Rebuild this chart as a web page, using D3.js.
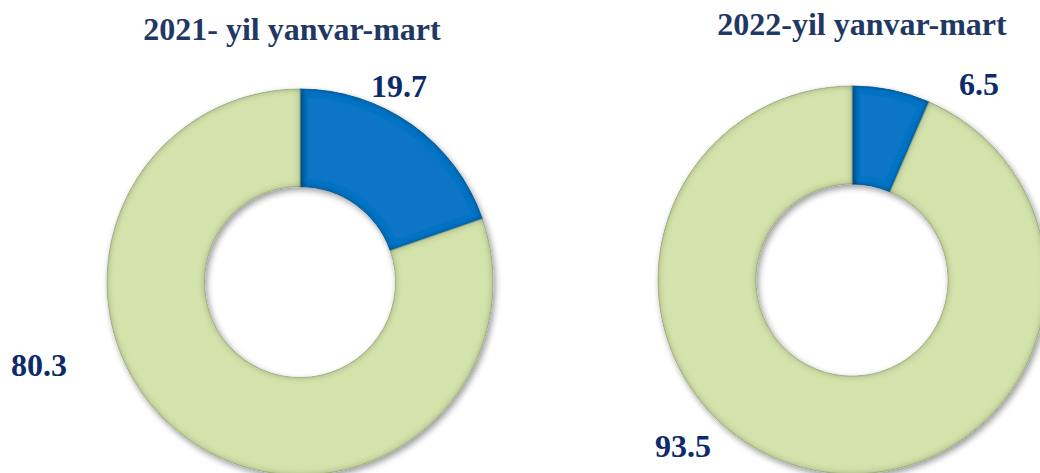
<!DOCTYPE html>
<html>
<head>
<meta charset="utf-8">
<script src="https://cdnjs.cloudflare.com/ajax/libs/d3/7.8.5/d3.min.js"></script>
<style>
  body { margin: 0; background: #fff; }
  svg { display: block; }
</style>
</head>
<body>
<div id="chart"></div>
<script>
// chart data
const titles = ["2021- yil yanvar-mart", "2022-yil yanvar-mart"];
const categories = ["blue", "green"];
const values2021 = [19.7, 80.3];
const values2022 = [6.5, 93.5];
const colors = ["#0a74c6", "#d4e3ab"];

const width = 1040, height = 473;

const svg = d3.select("#chart").append("svg")
    .attr("width", width)
    .attr("height", height);

// bevel-ish edges + drop shadow
const defs = svg.append("defs");
const f = defs.append("filter").attr("id", "bevel")
    .attr("x", "-10%").attr("y", "-10%").attr("width", "120%").attr("height", "120%");
f.append("feGaussianBlur").attr("in", "SourceAlpha").attr("stdDeviation", 3.5).attr("result", "blur");
f.append("feComposite").attr("in", "SourceAlpha").attr("in2", "blur")
    .attr("operator", "arithmetic").attr("k2", 1).attr("k3", -1).attr("result", "edge");
f.append("feFlood").attr("flood-color", "#000").attr("flood-opacity", 0.6).attr("result", "dark");
f.append("feComposite").attr("in", "dark").attr("in2", "edge").attr("operator", "in").attr("result", "shade");
f.append("feGaussianBlur").attr("in", "SourceAlpha").attr("stdDeviation", 3).attr("result", "sblur");
f.append("feOffset").attr("in", "sblur").attr("dx", 2).attr("dy", 3).attr("result", "soff");
f.append("feComponentTransfer").attr("in", "soff").attr("result", "shadow")
    .append("feFuncA").attr("type", "linear").attr("slope", 0.4);
const merge = f.append("feMerge");
merge.append("feMergeNode").attr("in", "shadow");
merge.append("feMergeNode").attr("in", "SourceGraphic");
merge.append("feMergeNode").attr("in", "shade");

const pie = d3.pie().sort(null).value(d => d);

// one donut per period
const donuts = [
    {title: titles[0], values: values2021, cx: 300, cy: 282, r: 193,
     titleX: 292, titleY: 40,
     labels: [{x: 399, y: 97, anchor: "middle"}, {x: 39, y: 376, anchor: "middle"}]},
    {title: titles[1], values: values2022, cx: 852, cy: 280, r: 194,
     titleX: 862, titleY: 35,
     labels: [{x: 979, y: 95, anchor: "middle"}, {x: 683, y: 457, anchor: "middle"}]}
];

donuts.forEach(dn => {
    const arc = d3.arc()
        .innerRadius(dn.r * 0.495)
        .outerRadius(dn.r);

    const g = svg.append("g")
        .attr("transform", `translate(${dn.cx},${dn.cy})`);

    g.selectAll("path")
        .data(pie(dn.values))
        .join("path")
        .attr("d", arc)
        .attr("fill", (d, i) => colors[i])
        .attr("stroke", (d, i) => d3.color(colors[i]).darker(0.6))
        .attr("stroke-width", 0.8)
        .attr("filter", "url(#bevel)");

    svg.append("text")
        .attr("x", dn.titleX)
        .attr("y", dn.titleY)
        .attr("text-anchor", "middle")
        .attr("font-family", "'Liberation Serif', 'Times New Roman', serif")
        .attr("font-weight", "bold")
        .attr("font-size", 32)
        .attr("fill", "#1f3864")
        .text(dn.title);

    dn.values.forEach((v, i) => {
        svg.append("text")
            .attr("x", dn.labels[i].x)
            .attr("y", dn.labels[i].y)
            .attr("text-anchor", dn.labels[i].anchor)
            .attr("font-family", "'Liberation Serif', 'Times New Roman', serif")
            .attr("font-weight", "bold")
            .attr("font-size", 32)
            .attr("fill", "#0d2a6b")
            .text(d3.format(".1f")(v));
    });
});
</script>
</body>
</html>
